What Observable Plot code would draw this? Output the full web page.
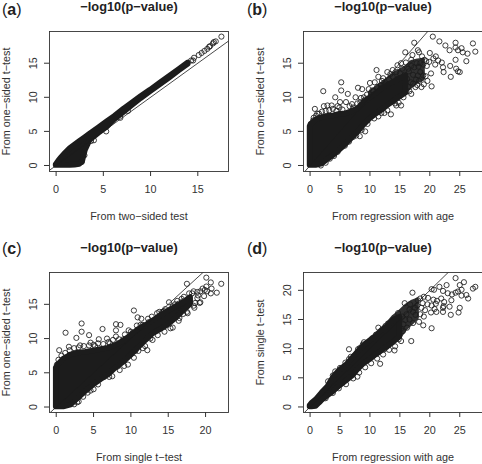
<!DOCTYPE html>
<html><head><meta charset="utf-8">
<script src="https://cdn.jsdelivr.net/npm/d3@7"></script>
<script src="https://cdn.jsdelivr.net/npm/@observablehq/plot@0.6"></script>
<style>
html,body{margin:0;padding:0;background:#fff}
#root{position:relative;width:482px;height:464px;overflow:hidden;font-family:"Liberation Sans",Arial,sans-serif}
#root svg{position:absolute;overflow:visible;background:transparent}
.tag{position:absolute;font-size:16px;color:#222;line-height:16px}
.tag b{font-weight:bold}
</style></head><body><div id="root"></div>
<script>
const title = "−log10(p−value)";
const letters = ["a","b","c","d"];
const yLabels = ["From one−sided t−test","From one−sided t−test","From one−sided t−test","From single t−test"];
const xLabels = ["From two−sided test","From regression with age","From single t−test","From regression with age"];

const aBandX = [0,0.3,0.6,1,1.5,2,2.5,2.8,3.1,3.6,4.5,5.4,6.2,7.2,8,9,10,11,12,13,14];
const aBandLo = [0,0,0,0,0.02,0.05,0.15,0.5,2.2,3.7,4.7,5.6,6.7,7.8,8.7,9.8,10.8,11.8,12.8,13.85,14.85];
const aBandHi = [0.1,0.7,1.2,1.8,2.5,3,3.5,3.8,4.1,4.6,5.5,6.4,7.2,8.3,9.1,10.1,11.05,12.05,13.05,14.05,15.05];
const aPoints = [[14.3,15.4],[14.6,15.8],[15.1,16.2],[15.4,16.5],[15.7,16.8],[16,17.1],[16.2,17.4],[16.3,17.5],[16.6,17.9],[16.7,18.1],[16.9,18.2],[17.5,18.9],[4,3.7],[5.3,5],[3.7,3.6],[3,1.5],[2.7,0.5],[6.8,7],[7.6,8],[14.5,15.4]];

const bBandX = [0,0.3,1,2,3,4,5,6,7,8,9,10,11,12,13,14,15,16];
const bBandLo = [0,0,0,0.2,0.9,1.5,2.3,3.1,4,4.9,5.9,6.8,7.5,8.1,8.8,9.4,10,10.6];
const bBandHi = [5.7,6.1,6.7,7,7.2,7.3,7.5,7.6,7.9,8.3,9.2,9.9,10.5,11.2,11.8,12.2,12.7,13.1];
const bShellX = [10,12,14,16,17,18,19];
const bShellLo = [6.8,8.2,9.2,10.7,11.5,12.2,12.6];
const bShellHi = [10.7,12,13.4,14.4,15.2,15.4,15.5];
const bPoints = [[20.5,18.9],[17.4,18],[21.6,18.2],[22.6,17.6],[24.3,18],[27.2,17.9],[27.6,16.7],[15.9,16.6],[24.3,17.3],[23.3,16.9],[24.7,16.9],[25.3,17.2],[25.5,16.6],[26.3,16.4],[26.1,15.3],[24.3,15.5],[23.4,14.6],[23.5,13],[24.7,13.8],[25,13.7],[22.3,13.7],[22.2,14.4],[24.4,14.2],[20.3,11.6],[18.6,11.5],[16.9,10.5],[11.1,14],[5.2,12.2],[5.2,11],[2.2,10.9],[6.3,10.5],[8,11.4],[8.7,11.2],[10,12.1],[11.4,13],[0.8,8.3],[4.2,10],[13.5,7.5],[15.2,8.8],[9.2,5],[8.3,4.3],[7.2,4.2],[6.5,3.5],[1.2,7.6],[2.3,8.7],[2.9,8.8],[3.6,8.8],[5,9.3],[6,9.3],[7.6,10],[8.5,9.9],[9.8,11.2],[10.4,11],[12,12.4],[12.9,13.7],[13.8,14],[14.6,14.7],[15.4,14.2],[16.4,14.2],[16.9,15.5],[17.1,16.2],[18,16.9],[18.2,16.6],[18.7,16],[19.1,15.5],[20,16.5],[20.6,15.7],[21,16],[21.4,15.4],[22,15.1],[19.5,14.6],[19.9,15.2],[18.4,15],[18.9,14.8],[17.8,15],[17.4,14.4],[16.5,13.8],[15.8,13.3],[15,13.5],[14.6,12.7],[14.2,12.3],[13.8,13],[13.2,12.6],[12.6,11.9],[12.4,10.5],[13,10.1],[13.6,9.6],[14.2,9.1],[14.8,9.2],[15.6,10],[16,10.8],[16.4,11.5],[16.8,12.2],[17.2,12],[17.7,12.6],[18,13.2],[18.4,13.7],[18.9,13.2],[19.3,13.1],[19.6,12.4],[18.2,12.4],[17.6,11.5],[17.2,13.3],[16.2,12.7],[15.4,12.1],[15,11],[14.6,10.6],[14.2,11.2],[13.4,11],[12.8,11.2],[20.2,13.5],[19,11.9],[18.1,14.5],[16.9,14.6],[16,15.1],[15.2,15],[14.4,13.7],[13.4,13.4],[12.2,12.8],[11.8,11.8],[10.8,12.2],[15.6,11.6],[16.6,10.9],[17.9,11.8],[20.9,14.8],[19.4,15.3],[4.6,8.7],[7,9],[9.1,9.6],[11.9,7.7],[12.9,8.1],[10.7,6.9],
[0.1,6.1],[0.5,6.6],[0.6,7],[1,7.3],[1.5,7.6],[2,7.9],[2.6,8],[3.2,8.1],[3.8,8.3],[4.4,8],[4.9,8.5],[5.4,8.2],[6.6,8.7],[7.2,8.5],[7.9,9.1],[8.4,9.3],[9,10],[9.5,10.4],[10.6,10.9],[11.2,11.5],[1.8,0],[2.6,0.4],[3.3,1],[4,1.4],[4.6,2],[5.2,2.7],[5.8,2.9],[7.7,4.4],[8.6,5.2],[9.6,6.1],[11.4,7.2],[12.4,7.7],[14.4,8.8]];

const cBandX = [0,0.3,1,2,3,4,5,6,7,8,9,10,11,12,13,14,15,16,17,18];
const cBandLo = [0,0,0,0.3,1.3,2.3,3.2,4,4.7,5.7,6.5,7.5,8.6,9.7,10.7,11.3,12,12.9,14,15];
const cBandHi = [5.7,6.2,7,7.6,7.9,8,8.2,8.4,8.6,9,9.6,10.4,11.3,11.9,12.6,13.3,14,14.6,15.2,16];
const cPoints = [[1.25,10.85],[3.4,12.2],[3.4,11],[2.7,10.1],[4.4,10.5],[6.2,11.4],[8,12.1],[8.6,12],[8,11.2],[10.4,14.1],[10.9,13.1],[11.4,12.9],[11.3,12],[12.3,12.9],[15.1,15.3],[17.5,18],[20.1,18.9],[22.1,18],[21.5,16.7],[20.7,18.2],[20.8,17.3],[20.1,17.6],[20.7,16.6],[0.4,8.3],[1.7,8.8],[12.2,8.3],[15.3,11.5],[19.3,15.3],[17.5,13.9],[18.2,16.6],[17.8,16.6],[17.1,16.1],[16.9,15.4],[16.2,15.5],[18.4,16.9],[18.9,16.8],[19.6,17.3],[19.9,17.1],[19.3,16.9],[18.9,15.9],[9.1,6],[8.2,5.9],[7.1,4.4],[4.6,2.4],[6.8,10],[5.7,9.9],[4.6,9.4],[8,10.3],[9.7,11.2],[13.8,13.9],[13.5,13.7],[18.4,14.8],[19.8,16.2],[20.2,16.9],[19,16.3],[18.6,15.2],[17.9,15.4],[17.4,15],[16.6,14.6],[16,13.7],[16.5,13],[17,13.6],[15.9,15],[14.6,14.3],[14.9,12.9],[12.9,9.8],[11.6,8.6],[10.6,8.2],[8.8,7.3],[6.4,4.4],[2.8,0.7],[1.8,7.6],[3.2,9],[5.2,8.9],[7.2,9.3],[9,9.9],[10.2,10.8],[12.4,12.4],[14.2,13.9],[16.4,15.1],
[0.1,6.2],[0.3,6.9],[0.7,7.5],[1.2,7.9],[1.8,8.3],[2.4,8.6],[3,8.7],[3.7,8.9],[4.4,9],[5,9.1],[5.6,9.3],[6.3,9.2],[7,9.5],[7.6,9.8],[8.4,9.9],[9.2,10.6],[10,11],[10.8,11.9],[11.6,12],[12.8,13.2],[14.4,14],[15.6,14.7],[16.8,15.8],[2.4,0.4],[3,0.8],[3.6,1.5],[4.2,2.1],[5,2.6],[5.6,3.3],[7.5,4.5],[8.5,5.4],[9.6,6.2],[10.4,7.2],[11,8.2],[11.9,8.9],[12.6,10],[13.6,10.5],[14.5,11],[15.6,11.6],[16.4,12.6],[17.6,13.7],[18.5,14.5],[19.2,15.2]];

const dBandX = [0,0.3,1,2,3,4,5,6,7,8,9,10,11,12,13,14,15];
const dBandLo = [0,0,0.1,1.1,1.9,2.7,3.6,4.4,5.2,6.4,7.4,8.1,8.9,9.6,10.4,11.1,12];
const dBandHi = [0.2,0.6,1.2,2.4,3.5,5.2,6.3,7.1,8.2,9.4,10.5,11.3,12.1,13.1,13.9,14.9,15.4];
const dShellX = [13,14,15,16,17,18];
const dShellLo = [10,11,11.8,13.2,14.2,15.2];
const dShellHi = [14.3,15.5,16.3,17.3,18,18.4];
const dPoints = [[24.3,22.1],[25.7,21.4],[25,20.9],[27.2,20.3],[27.6,20.6],[17.1,19.6],[21.6,20.6],[22.8,20.9],[20.3,20.2],[20.7,20.1],[22.2,19.9],[25.3,20.1],[24.7,19.8],[24.3,19.6],[23,19.5],[23.7,19.3],[26.1,19.2],[26.4,18.6],[25.3,19.1],[23.6,18.3],[23.5,15.8],[24.8,16.2],[25,17],[23.3,17.2],[22.2,16.3],[20.3,13.5],[18.9,14],[16.9,11.3],[15.8,17.8],[16.7,17.6],[14.7,16.1],[13,14.3],[11.4,13.6],[11.7,7.4],[6.5,9.9],[9,11.1],[8.3,10.1],[6.5,8.2],[7.9,5.2],[14.1,9.7],[18.4,18.6],[19,18.9],[19.7,18.7],[18,18.3],[20.6,18.4],[21.2,18.2],[21.9,18.6],[22.4,18],[19.6,17.6],[20.3,17.4],[21,17.7],[20.8,16.8],[22.2,17],[22.3,17.3],[19.2,16.6],[20.2,16.2],[21.1,16.3],[19,15.5],[18.4,15.9],[18.2,14.6],[17.6,15.8],[17.2,14.4],[16.2,13.6],[15.6,14.2],[15.2,13.4],[14.9,12.2],[14.3,12.6],[13.6,11.5],[13.1,10.6],[12.4,9.9],[17.5,17],[17.2,16.3],[16.6,16.7],[16.1,15.9],[15.4,15.5],[14.9,15],[14.4,14.6],[13.9,14.9],[13.8,13.7],[13.2,13],[15.9,14.9],[16.6,15],[18.6,17],[17.9,17.4],[18.8,17.8],[15.5,13],[14.6,13.9],[14.8,11.6],
[3,4.4],[3.8,5.4],[4.2,6.1],[5,6.7],[5.9,7.6],[6.8,8.6],[7.3,8.7],[8,9.9],[8.8,10.7],[9.6,11],[10.4,11.8],[11,12.4],[11.8,12.8],[12.6,13.9],[1.6,0.9],[2.6,1.5],[3.8,2.4],[4.8,3.2],[6,3.9],[7.2,4.9],[8.2,5.9],[9.2,6.8],[10.2,7.5],[11.2,8.3],[12.2,9],[13.2,9.8],[14.2,10.4],[15.2,11.3]];

const panels = [
  {left:0,top:0,ml:49,mr:13,xDom:[-0.7,18.25],yDom:[-0.88,19.65],xTicks:[0,5,10,15],yTicks:[0,5,10,15],bx:aBandX,lo:aBandLo,hi:aBandHi,sx:[],slo:[],shi:[],pts:aPoints,tagL:2},
  {left:241,top:0,ml:62,mr:0,xDom:[-1.1,28.8],yDom:[-0.88,19.65],xTicks:[0,5,10,15,20,25],yTicks:[0,5,10,15],bx:bBandX,lo:bBandLo,hi:bBandHi,sx:bShellX,slo:bShellLo,shi:bShellHi,pts:bPoints,tagL:247},
  {left:0,top:241,ml:49,mr:13,xDom:[-0.9,23.07],yDom:[-0.8,19.65],xTicks:[0,5,10,15,20],yTicks:[0,5,10,15],bx:cBandX,lo:cBandLo,hi:cBandHi,sx:[],slo:[],shi:[],pts:cPoints,tagL:2},
  {left:241,top:241,ml:62,mr:0,xDom:[-1.1,28.8],yDom:[-0.95,23.06],xTicks:[0,5,10,15,20,25],yTicks:[0,5,10,15,20],bx:dBandX,lo:dBandLo,hi:dBandHi,sx:dShellX,slo:dShellLo,shi:dShellHi,pts:dPoints,tagL:247}
];
const ink = "#1c1c1c";
const root = document.getElementById("root");
panels.forEach((p,i)=>{
  const diag = [-3,40];
  const svg = Plot.plot({
    width:241, height:223, marginLeft:p.ml, marginRight:p.mr, marginTop:31, marginBottom:52,
    style:{fontFamily:'"Liberation Sans",Arial,sans-serif',background:"transparent",overflow:"visible"},
    x:{domain:p.xDom}, y:{domain:p.yDom},
    marks:[
      Plot.areaY(p.sx,{x:p.sx,y1:p.slo,y2:p.shi,fill:"#303030",stroke:"#303030",strokeWidth:3,strokeLinejoin:"round"}),
      Plot.areaY(p.bx,{x:p.bx,y1:p.lo,y2:p.hi,fill:ink,stroke:ink,strokeWidth:5.6,strokeLinejoin:"round"}),
      Plot.dot(p.pts,{x:d=>d[0],y:d=>d[1],r:2.6,stroke:ink,strokeWidth:0.85,fill:"none"}),
      Plot.line(diag,{x:d=>d,y:d=>d,stroke:ink,strokeWidth:0.8,clip:"frame"}),
      Plot.frame({stroke:"#333",strokeWidth:0.9}),
      Plot.axisX({ticks:p.xTicks,tickSize:5,tickPadding:9,fontSize:10.8,stroke:"#333",color:"#333",label:xLabels[i],labelAnchor:"center",labelArrow:"none",labelOffset:48}),
      Plot.axisY({ticks:p.yTicks,tickSize:5,tickPadding:8,tickRotate:-90,fontSize:10.8,stroke:"#333",color:"#333",label:yLabels[i],labelAnchor:"center",labelArrow:"none",labelOffset:47.5}),
      Plot.text([title],{frameAnchor:"top",dy:-30,dx:-10,fontWeight:"bold",fontSize:12.8,fill:"#222",lineAnchor:"top"})
    ]
  });
  svg.style.left=p.left+"px"; svg.style.top=p.top+"px";
  root.appendChild(svg);
  const tag=document.createElement("div");
  tag.className="tag";
  tag.style.left=p.tagL+"px"; tag.style.top=(p.top+(i<2?2:0))+"px";
  tag.innerHTML="(<b>"+letters[i]+"</b>)";
  root.appendChild(tag);
});
</script></body></html>
